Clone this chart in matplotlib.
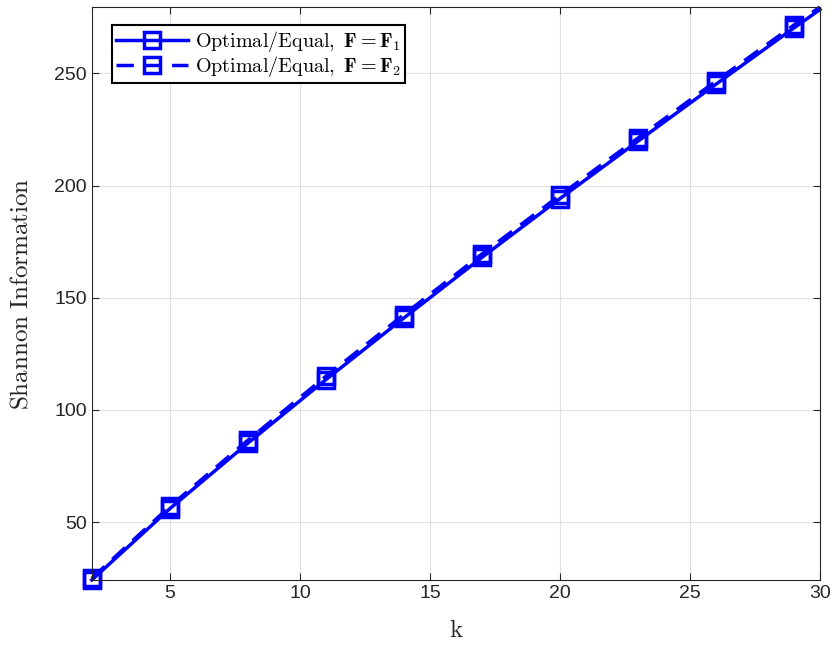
import matplotlib
matplotlib.use('Agg')
import matplotlib.pyplot as plt

plt.rcParams['mathtext.fontset'] = 'cm'
plt.rcParams['font.family'] = 'Liberation Sans'

k = [2, 5, 8, 11, 14, 17, 20, 23, 26, 29, 30]
info_f1 = [24.2, 56.0, 85.2, 113.5, 141.0, 168.0, 194.2, 219.8, 245.2, 270.3, 278.5]
info_f2 = [25.0, 57.0, 86.5, 115.0, 142.5, 169.5, 195.7, 221.2, 246.6, 271.6, 279.6]

labels = [r'$\mathrm{Optimal/Equal,}\ \mathbf{F}=\mathbf{F}_1$',
          r'$\mathrm{Optimal/Equal,}\ \mathbf{F}=\mathbf{F}_2$']

fig = plt.figure(figsize=(8.35, 6.47), dpi=100)
ax = fig.add_axes([0.110, 0.1036, 0.872, 0.8855])

mk = list(range(len(k) - 1))
l1, = ax.plot(k, info_f1, '-', color='blue', lw=2.5, marker='s', ms=11.5, mfc='none',
              mew=2.5, markevery=mk, label=labels[0], clip_on=False)
l2, = ax.plot(k, info_f2, '--', color='blue', lw=2.5, marker='s', ms=11.5, mfc='none',
              mew=2.5, markevery=mk, dashes=(5, 3), label=labels[1], clip_on=False)

ax.set_xlim(2, 30)
ax.set_ylim(min(info_f1), max(info_f2))
ax.set_xticks([5, 10, 15, 20, 25, 30])
ax.set_yticks([50, 100, 150, 200, 250])
ax.grid(True, color='#e0e0e0', lw=0.8)
ax.set_axisbelow(True)
ax.tick_params(direction='in', top=True, right=True, labelsize=14,
               colors='#262626', length=5)
for s in ax.spines.values():
    s.set_color('#262626')
    s.set_linewidth(0.8)

ax.set_xlabel(r'$\mathrm{k}$', fontsize=18, color='#262626', labelpad=12)
ax.set_ylabel(r'$\mathrm{Shannon\ Information}$', fontsize=18, color='#262626',
              labelpad=16)

leg = ax.legend(loc='upper left', fontsize=14.5, frameon=True, fancybox=False,
                edgecolor='black', framealpha=1, borderpad=0.2,
                labelspacing=0.0, handlelength=3.6, handletextpad=0.35,
                borderaxespad=0, bbox_to_anchor=(0.027, 0.968))
leg.get_frame().set_linewidth(1.5)

fig.savefig('out.png', dpi=100)
